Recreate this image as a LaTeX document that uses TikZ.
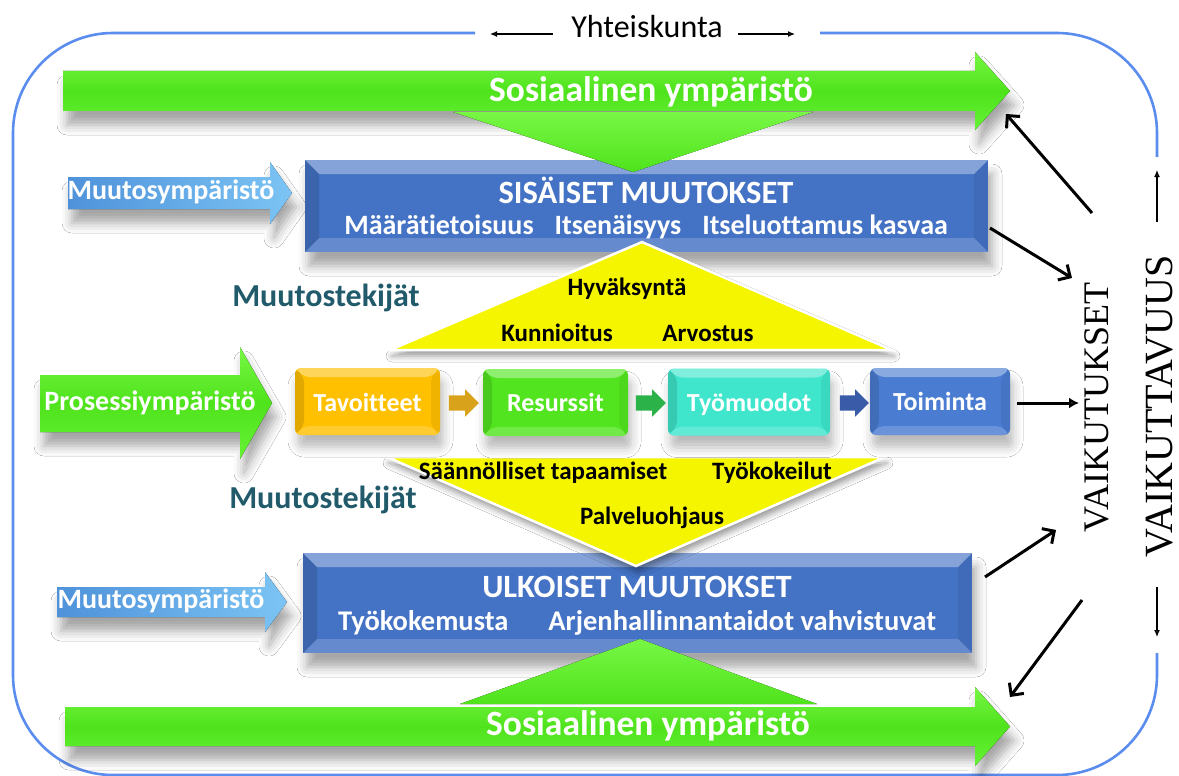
\documentclass[tikz,border=0pt]{standalone}
\usepackage{fontspec}
\setmainfont{Carlito}[Ligatures=NoCommon]
\newfontfamily\seriffont{Liberation Serif}
\usetikzlibrary{arrows.meta,shapes.arrows,shadows.blur,calc}
\newcommand\fsz[1]{\fontsize{#1}{#1}\selectfont}
\definecolor{bordblue}{HTML}{5B8DEF}
\definecolor{gTop}{HTML}{78F745}
\definecolor{gMid}{HTML}{4FE31C}
\definecolor{gBot}{HTML}{66F236}
\definecolor{boxblue}{HTML}{4472C4}
\definecolor{mLeft}{HTML}{4F92DA}
\definecolor{mRight}{HTML}{7CC4F4}
\definecolor{tavcol}{HTML}{FFC000}
\definecolor{rescol}{HTML}{52E51F}
\definecolor{tyocol}{HTML}{3FE6CC}
\definecolor{toicol}{HTML}{4A7CD2}
\definecolor{ygold}{HTML}{D9A21B}
\definecolor{ygreen}{HTML}{2BB34A}
\definecolor{yblue}{HTML}{3A5CA8}
\definecolor{tealtxt}{HTML}{215B6B}
\definecolor{yel}{HTML}{F5F500}
\begin{document}
\begin{tikzpicture}[x=1pt,y=-1pt,
  sh/.style={blur shadow={shadow xshift=4pt,shadow yshift=-14pt,shadow blur radius=10pt,shadow opacity=35}},
  greenarrow/.style={top color=gTop,bottom color=gBot,middle color=gMid,sh},
  muuarrow/.style={left color=mLeft,right color=mRight,sh},
  bevel/.style={path picture={
    \fill[white,opacity=.35] (path picture bounding box.north west) -- (path picture bounding box.north east) -- ([shift={(-#1,-#1)}]path picture bounding box.north east) -- ([shift={(#1,-#1)}]path picture bounding box.north west) -- cycle;
    \fill[white,opacity=.18] (path picture bounding box.south west) -- (path picture bounding box.south east) -- ([shift={(-#1,#1)}]path picture bounding box.south east) -- ([shift={(#1,#1)}]path picture bounding box.south west) -- cycle;
    \fill[black,opacity=.12] (path picture bounding box.north west) -- ([shift={(#1,-#1)}]path picture bounding box.north west) -- ([shift={(#1,#1)}]path picture bounding box.south west) -- (path picture bounding box.south west) -- cycle;
    \fill[black,opacity=.06] (path picture bounding box.north east) -- ([shift={(-#1,-#1)}]path picture bounding box.north east) -- ([shift={(-#1,#1)}]path picture bounding box.south east) -- (path picture bounding box.south east) -- cycle;
  }},
  bigbox/.style={fill=boxblue,bevel=14pt,sh,inner sep=0pt},
  pbox/.style={rounded corners=6pt,bevel=9pt,inner sep=0pt,minimum height=67pt,
     blur shadow={shadow xshift=3pt,shadow yshift=-12pt,shadow blur radius=10pt,shadow opacity=28}},
  smallarrow/.style={single arrow,inner sep=0pt,minimum height=30pt,single arrow head extend=6pt},
  wtxt/.style={text=white,font=\bfseries\fsz{#1},inner sep=0pt},
  btxt/.style={text=black,font=\bfseries\fsz{#1},inner sep=0pt},
  boxtxt/.style={wtxt=26pt,text height=17pt,text depth=0pt},
  tealt/.style={text=tealtxt,font=\bfseries\fsz{32pt},inner sep=0pt},
  border/.style={draw=bordblue,line width=2.6pt,rounded corners=100pt},
  thinarrow/.style={line width=1.2pt,-{Latex[length=7pt,width=6pt]}},
  thickarrow/.style={line width=3pt,-{Straight Barb[length=9pt,width=18pt]}},
  yeltri/.style={fill=yel,draw=white,line width=2.5pt,line join=miter,
     blur shadow={shadow xshift=2pt,shadow yshift=-6pt,shadow blur radius=6pt,shadow opacity=40}},
  gtri/.style={top color=gTop,bottom color=gMid}
]
\useasboundingbox (0,0) rectangle (1179,776);
\fill[white] (0,0) rectangle (1179,776);

% outer border
\draw[border] (475,33) -- (13,33) -- (13,775) -- (1157,775) -- (1157,653);
\draw[border] (820,33) -- (1157,33) -- (1157,157);

% big green arrows
\fill[greenarrow] (63,71) -- (975,71) -- (975,52) -- (1010,91) -- (975,130) -- (975,111) -- (63,111) -- cycle;
\fill[greenarrow] (65,707) -- (975,707) -- (975,687) -- (1010,726.5) -- (975,766) -- (975,746) -- (65,746) -- cycle;
\fill[greenarrow] (40,375) -- (240,375) -- (240,347) -- (272,403) -- (240,459) -- (240,432) -- (40,432) -- cycle;
\fill[muuarrow] (68,177) -- (270,177) -- (270,162) -- (292,193) -- (270,224) -- (270,209) -- (68,209) -- cycle;
\fill[muuarrow] (57,587) -- (265,587) -- (265,572) -- (287,602) -- (265,632) -- (265,617) -- (57,617) -- cycle;

% big boxes
\node[bigbox,minimum width=683pt,minimum height=92pt] (sis) at (646.5,206) {};
\node[bigbox,minimum width=669pt,minimum height=100pt] (ulk) at (637.5,603) {};

% green triangles
\fill[gtri] (453,112) -- (813,112) -- (633,172) -- cycle;
\fill[gtri] (460,704) -- (817,704) -- (640,639) -- cycle;

% yellow triangles
\path[yeltri] (390,350) -- (892,350) -- (642,242) -- cycle;
\path[yeltri] (387,457) -- (885,457) -- (636,566) -- cycle;

% process boxes
\node[pbox,fill=tavcol,minimum width=145pt] (tav) at (367.5,401.5) {};
\node[pbox,fill=rescol,minimum width=145pt] (res) at (555.5,402.5) {};
\node[pbox,fill=tyocol,minimum width=162pt] (tyo) at (749,402) {};
\node[pbox,fill=toicol,minimum width=140pt] (toi) at (940,401.5) {};
\node[smallarrow,fill=ygold] (s1) at (460,403) {\rule{0pt}{15pt}};
\node[smallarrow,fill=ygreen] (s2) at (647,403) {\rule{0pt}{15pt}};
\node[smallarrow,fill=yblue,minimum height=29pt] (s3) at (850.5,403) {\rule{0pt}{15pt}};

% texts
\node[wtxt=35.5pt] (sos1) at (651,92) {Sosiaalinen ympäristö};
\node[wtxt=35.5pt] (sos2) at (648,726) {Sosiaalinen ympäristö};
\node[wtxt=28pt] (muu1) at (171,192) {Muutosympäristö};
\node[wtxt=28pt] (muu2) at (161,601) {Muutosympäristö};
\node[wtxt=28pt] (pro) at (150,403) {Prosessiympäristö};
\node[wtxt=32.5pt] (sist) at (646,190) {SISÄISET MUUTOKSET};
\node[wtxt=28pt] (sisl) at (646,227) {Määrätietoisuus\hspace{21pt}Itsenäisyys\hspace{21pt}Itseluottamus kasvaa};
\node[wtxt=32.5pt] (ulkt) at (637,587) {ULKOISET MUUTOKSET};
\node[wtxt=28.5pt] (ulkl) at (637,623) {Työkokemusta\hspace{40pt}Arjenhallinnantaidot vahvistuvat};
\node[tealt] (mt1) at (326,298) {Muutostekijät};
\node[tealt] (mt2) at (323,500) {Muutostekijät};
\node[btxt=25pt] (hyv) at (627,289) {Hyväksyntä};
\node[btxt=25pt] (kun) at (557,333) {Kunnioitus};
\node[btxt=25pt] (arv) at (708,333) {Arvostus};
\node[btxt=25pt] (saa) at (543,473) {Säännölliset tapaamiset};
\node[btxt=25pt] (tyk) at (772,473) {Työkokeilut};
\node[btxt=25pt] (pal) at (652,518) {Palveluohjaus};
\node[boxtxt] (tavt) at (367.5,403) {Tavoitteet};
\node[boxtxt] (rest) at (555.5,403) {Resurssit};
\node[boxtxt] (tyot) at (749,403) {Työmuodot};
\node[boxtxt] (toit) at (940,402) {Toiminta};
\node[font=\fsz{32pt},inner sep=0pt] (yh) at (647,27) {Yhteiskunta};
\node[font=\seriffont\fsz{36pt},rotate=90,inner sep=0pt] (vk) at (1097,407.5) {VAIKUTUKSET};
\node[font=\seriffont\fsz{40pt},rotate=90,inner sep=0pt] (vv) at (1160,406.5) {VAIKUTTAVUUS};

% connector end points
\coordinate (yl1) at (553,34); \coordinate (yl2) at (490,34);
\coordinate (yr1) at (738,34); \coordinate (yr2) at (795,34);
\coordinate (vu1) at (1157,222); \coordinate (vu2) at (1157,170);
\coordinate (vd1) at (1157,587); \coordinate (vd2) at (1157,637);
\coordinate (c1s) at (1092,213); \coordinate (c1e) at (1006,114);
\coordinate (c2s) at (990,228); \coordinate (c2e) at (1072,278);
\coordinate (c3s) at (985,577); \coordinate (c3e) at (1056,530);
\coordinate (c4s) at (1082,600); \coordinate (c4e) at (1010,697);
\coordinate (t1) at (1017,403); \coordinate (t2) at (1079,403);

\draw[thinarrow] (yl1) -- (yl2);
\draw[thinarrow] (yr1) -- (yr2);
\draw[thinarrow] (vu1) -- (vu2);
\draw[thinarrow] (vd1) -- (vd2);
\draw[thickarrow] (c1s) -- (c1e);
\draw[thickarrow] (c2s) -- (c2e);
\draw[thickarrow] (c3s) -- (c3e);
\draw[thickarrow] (c4s) -- (c4e);
\draw[line width=3pt,-{Latex[length=10pt,width=11pt]}] (t1) -- (t2);
\end{tikzpicture}
\end{document}
